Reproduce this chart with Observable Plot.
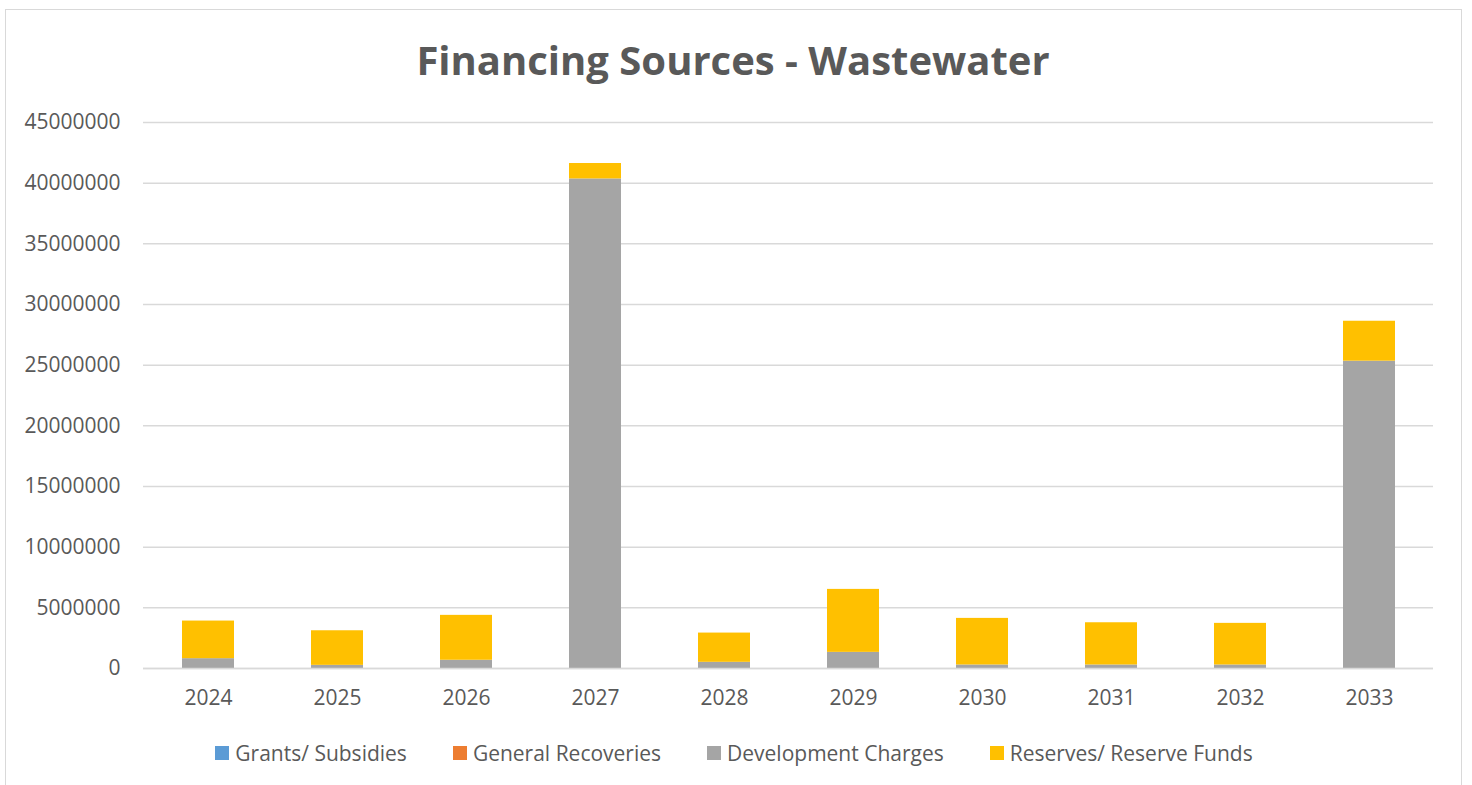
<!DOCTYPE html>
<html>
<head>
<meta charset="utf-8">
<script src="https://cdn.jsdelivr.net/npm/d3@7"></script>
<script src="https://cdn.jsdelivr.net/npm/@observablehq/plot@0.6"></script>
<style>
  html, body { margin: 0; padding: 0; background: #fff; }
  body { width: 1472px; height: 785px; position: relative; overflow: hidden; font-family: "Open Sans", sans-serif; }
  #frame { position: absolute; left: 5px; top: 9px; width: 1457px; height: 800px; border: 1px solid #D9D9D9; box-sizing: border-box; }
  #title { position: absolute; left: 0; width: 1466px; top: 40px; text-align: center; font-family: "Open Sans", sans-serif; font-weight: 700; font-size: 40px; color: #595959; line-height: 1; }
  #chart { position: absolute; left: 0; top: 100px; }
  #legend { position: absolute; left: 0; width: 1468px; top: 739px; display: flex; justify-content: center; gap: 46px; font-size: 21px; color: #595959; }
  .item { display: flex; align-items: center; gap: 6px; }
  .sw { width: 14px; height: 14px; display: inline-block; }
</style>
</head>
<body>
<div id="frame"></div>
<div id="title"><span>Financing Sources - Wastewater</span></div>
<div id="chart"></div>
<div id="legend"></div>
<script>
const years = ["2024","2025","2026","2027","2028","2029","2030","2031","2032","2033"];
const seriesNames = ["Grants/ Subsidies","General Recoveries","Development Charges","Reserves/ Reserve Funds"];
const seriesColors = ["#5B9BD5","#ED7D31","#A5A5A5","#FFC000"];
const grants = [0,0,0,0,0,0,0,0,0,0];
const generalRecoveries = [0,0,0,0,0,0,0,0,0,0];
const developmentCharges = [810000,260000,680000,40350000,510000,1330000,290000,290000,290000,25330000];
const reserves = [3100000,2850000,3700000,1270000,2410000,5190000,3840000,3480000,3430000,3290000];
const yTicks = [0,5000000,10000000,15000000,20000000,25000000,30000000,35000000,40000000,45000000];

const seriesValues = [grants, generalRecoveries, developmentCharges, reserves];
const rows = [];
seriesNames.forEach((s, si) => years.forEach((y, i) => rows.push({year: y, series: s, value: seriesValues[si][i]})));

const chart = Plot.plot({
  width: 1472,
  height: 620,
  marginLeft: 143,
  marginRight: 39,
  marginTop: 22,
  marginBottom: 52,
  style: {fontFamily: "Open Sans, sans-serif", fontSize: "21px", color: "#595959", background: "transparent"},
  x: {domain: years, paddingInner: 0.6, paddingOuter: 0.3, label: null},
  y: {domain: [0, 45000000], label: null},
  color: {domain: seriesNames, range: seriesColors},
  marks: [
    Plot.gridY(yTicks, {stroke: "#D9D9D9", strokeOpacity: 1, strokeWidth: 1.5}),
    Plot.barY(rows, {x: "year", y: "value", fill: "series", order: seriesNames}),
    Plot.ruleY([0], {stroke: "#D9D9D9", strokeWidth: 1.5}),
    Plot.axisX({tickSize: 0, tickPadding: 22, fontSize: 21}),
    Plot.axisY({ticks: yTicks, tickFormat: d => String(d), tickSize: 0, tickPadding: 23, fontSize: 21})
  ]
});
document.getElementById("chart").appendChild(chart);

const legend = document.getElementById("legend");
seriesNames.forEach((s, i) => {
  const it = document.createElement("div");
  it.className = "item";
  const sw = document.createElement("span");
  sw.className = "sw";
  sw.style.background = seriesColors[i];
  const t = document.createElement("span");
  t.textContent = s;
  it.appendChild(sw); it.appendChild(t);
  legend.appendChild(it);
});
</script>
</body>
</html>
